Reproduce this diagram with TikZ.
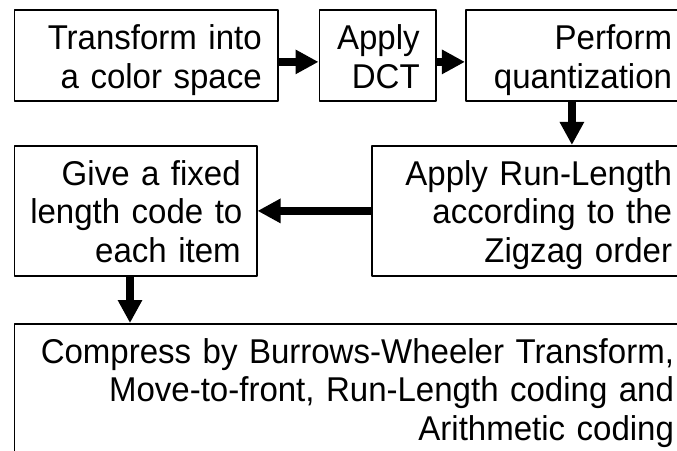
\documentclass[tikz,border=0pt]{standalone}
\usepackage{fontspec}
\setmainfont[FakeStretch=0.96]{Liberation Sans}
\setlength{\parindent}{0pt}
\usetikzlibrary{arrows.meta}
\begin{document}
\begin{tikzpicture}[x=1pt,y=-1pt,line join=round,>={Triangle[length=23pt,width=23pt]},
	box/.style={draw,line width=1.6pt,rectangle,inner xsep=16pt,inner ysep=0pt,align=right,
		font=\fontsize{34.4pt}{38.5pt}\selectfont,text height=39.5pt},
	twoline/.style={box,text depth=51.2pt},
	threeline/.style={box,text depth=90.8pt}]
	\useasboundingbox (0,0) rectangle (677,450);
	\clip (0,0) rectangle (677,450);
	\node[twoline,text width=231.4pt] (color) at (146,55.4) {Transform into\\a color space};
	\node[twoline,text width=84.4pt] (dct) at (377.5,55.4) {Apply\\DCT};
	\node[twoline,text width=190.3pt] (quant) at (576.9,55.4) {Perform\\quantization};
	\node[threeline,text width=284.3pt] (rle) at (529.9,210.9) {Apply Run-Length\\according to the\\Zigzag order};
	\node[threeline,text width=210.4pt] (code) at (135.5,210.9) {Give a fixed\\length~code~to\\each item};
	\node[threeline,text width=643.5pt] (bwt) at (352.25,389) {Compress by Burrows-Wheeler Transform,\\Move-to-front, Run-Length coding and\\Arithmetic coding};
	\draw[->,line width=8pt] ([yshift=-6.5pt]color.east) -- ([yshift=-6.5pt]dct.west);
	\draw[->,line width=8pt] ([yshift=-6.5pt]dct.east) -- ([yshift=-6.5pt]quant.west);
	\draw[->,line width=8pt] ([xshift=-5pt]quant.south) -- ([xshift=-5pt]quant.south |- rle.north);
	\draw[->,line width=8pt] (rle.west) -- (code.east);
	\draw[->,line width=8pt] ([xshift=-5.5pt]code.south) -- ([xshift=-5.5pt]code.south |- bwt.north);
\end{tikzpicture}
\end{document}
